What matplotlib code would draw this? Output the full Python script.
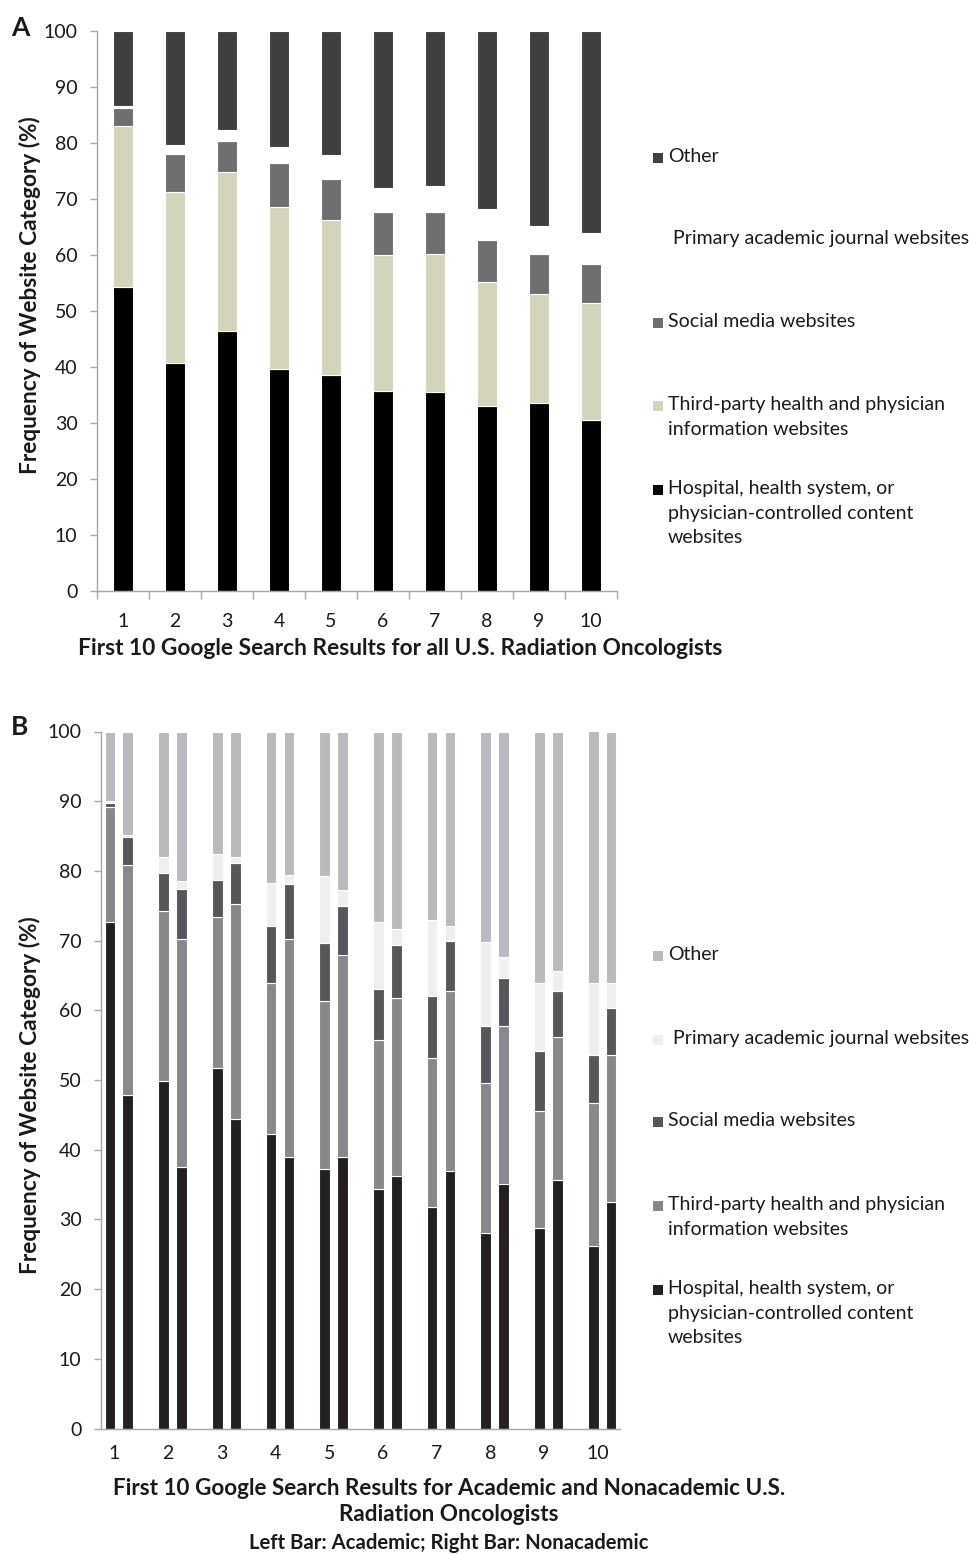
import numpy as np
import matplotlib
matplotlib.use("Agg")
import matplotlib.pyplot as plt
from matplotlib.patches import Rectangle

plt.rcParams.update({
    "font.family": ["Lato", "DejaVu Sans"],
    "font.size": 14,
    "axes.spines.top": False,
    "axes.spines.right": False,
})

RANKS = [str(i) for i in range(1, 11)]
LABELS = [
    "Hospital, health system, or\nphysician-controlled content\nwebsites",
    "Third-party health and physician\ninformation websites",
    "Social media websites",
    " Primary academic journal websites",
    "Other",
]

# (A) all radiation oncologists, % per search-result rank
all_hospital = [54.3, 40.7, 46.4, 39.7, 38.5, 35.8, 35.6, 33.0, 33.5, 30.5]
all_thirdparty = [28.7, 30.6, 28.4, 28.9, 27.7, 24.2, 24.6, 22.2, 19.5, 21.0]
all_social = [3.2, 6.7, 5.6, 7.9, 7.4, 7.6, 7.4, 7.5, 7.2, 6.9]
all_journal = [0.4, 1.6, 1.9, 2.8, 4.3, 4.3, 4.8, 5.6, 4.9, 5.5]
all_other = [13.4, 20.4, 17.7, 20.7, 22.1, 28.1, 27.6, 31.7, 34.9, 36.1]

# (B) academic (left bar) vs nonacademic (right bar)
acad_hospital = [72.7, 49.9, 51.7, 42.3, 37.3, 34.4, 31.8, 28.1, 28.7, 26.2]
acad_thirdparty = [16.4, 24.3, 21.7, 21.6, 24.0, 21.3, 21.4, 21.4, 16.9, 20.5]
acad_social = [0.6, 5.5, 5.3, 8.2, 8.4, 7.3, 8.8, 8.2, 8.5, 6.9]
acad_journal = [0.3, 2.3, 3.7, 6.2, 9.6, 9.7, 11.0, 12.1, 9.8, 10.3]
acad_other = [10.0, 18.0, 17.6, 21.7, 20.7, 27.3, 27.0, 30.2, 36.1, 36.1]

nonacad_hospital = [47.8, 37.5, 44.4, 38.9, 39.0, 36.2, 37.0, 35.1, 35.6, 32.5]
nonacad_thirdparty = [33.0, 32.7, 30.9, 31.3, 29.0, 25.5, 25.8, 22.6, 20.6, 21.1]
nonacad_social = [4.1, 7.2, 5.8, 7.9, 7.0, 7.6, 7.1, 6.9, 6.6, 6.8]
nonacad_journal = [0.3, 1.1, 0.9, 1.3, 2.2, 2.3, 2.2, 3.0, 2.8, 3.5]
nonacad_other = [14.8, 21.5, 18.0, 20.6, 22.8, 28.4, 27.9, 32.4, 34.4, 36.1]

COLORS_A = ["#000000", "#d4d3bc", "#6f6f6f", "#ffffff", "#3f3f3f"]
COLORS_B = ["#231f20", "#87888c", "#55575a", "#efefef", "#b9babe"]
AXIS_GRAY = "#a6a6a6"
TEXT = "#1a1a1a"

W, H = 969, 1554
fig = plt.figure(figsize=(W / 100, H / 100), dpi=100)


def fx(x):
    return x / W


def fy(y):
    return 1 - y / H


def stack(ax, x, series, colors, width):
    bottom = np.zeros(len(x))
    for vals, c in zip(series, colors):
        ax.bar(x, vals, width, bottom=bottom, color=c, edgecolor="white",
               linewidth=0.8)
        bottom += np.asarray(vals)


def style_axes(ax, ylab_y):
    for s in ("left", "bottom"):
        ax.spines[s].set_color(AXIS_GRAY)
        ax.spines[s].set_linewidth(1.0)
    ax.set_ylim(0, 100)
    ax.set_yticks(range(0, 101, 10))
    ax.tick_params(axis="y", length=5, width=1, color=AXIS_GRAY, pad=9,
                   labelsize=14, labelcolor=TEXT)
    ax.set_ylabel("Frequency of Website Category (%)", fontweight="bold",
                  fontsize=16.3, color=TEXT)
    x0 = ax.get_position().x0 * W
    ax.yaxis.set_label_coords((30 - x0) / (ax.get_position().width * W),
                              ylab_y)
    ax.yaxis.label.set_va("center")


def side_legend(colors, rows):
    # rows: y of the first text line, in px from the top
    for y, lab, c in zip(rows, LABELS, colors):
        fig.patches.append(Rectangle((fx(653), fy(y + 5)), fx(10), 10 / H,
                                     transform=fig.transFigure,
                                     facecolor=c, edgecolor="none"))
        fig.text(fx(668), fy(y - 10), lab, ha="left", va="top",
                 fontsize=14, color=TEXT, linespacing=1.55)


# ---- panel A
axA = fig.add_axes([fx(97), fy(591), fx(520), 560 / H])
xA = np.arange(1, 11)
stack(axA, xA, [all_hospital, all_thirdparty, all_social, all_journal,
                all_other], COLORS_A, 0.39)
axA.set_xlim(0.5, 10.5)
axA.set_xticks(xA)
axA.set_xticklabels(RANKS)
axA.set_xticks(np.arange(0.5, 11, 1), minor=True)
axA.tick_params(axis="x", which="major", length=0, pad=16, labelsize=14,
                labelcolor=TEXT)
axA.tick_params(axis="x", which="minor", length=6, width=1, color=AXIS_GRAY)
style_axes(axA, (591 - 295) / 560)
axA.set_xlabel("First 10 Google Search Results for all U.S. Radiation Oncologists",
               fontweight="bold", fontsize=16.4, color=TEXT)
axA.xaxis.set_label_coords((400 - 97) / 520, (591 - 638) / 560)
side_legend(COLORS_A, [490, 406, 323, 240, 158])
fig.text(fx(11), fy(28), "A", fontsize=19, fontweight="bold", va="center",
         color=TEXT)

# ---- panel B
axB = fig.add_axes([fx(101), fy(1428.5), fx(519), 697 / H])
slots = np.arange(10) * 3
stack(axB, slots, [acad_hospital, acad_thirdparty, acad_social, acad_journal,
                   acad_other], COLORS_B, 0.6)
stack(axB, slots + 1, [nonacad_hospital, nonacad_thirdparty, nonacad_social,
                       nonacad_journal, nonacad_other], COLORS_B, 0.6)
axB.set_xlim(-0.5, 28.5)
axB.set_xticks(slots + 0.25)
axB.set_xticklabels(RANKS)
axB.tick_params(axis="x", length=0, pad=12, labelsize=14, labelcolor=TEXT)
style_axes(axB, (1428.5 - 1095) / 697)
axB.set_xlabel("First 10 Google Search Results for Academic and Nonacademic U.S.\n"
               "Radiation Oncologists", fontweight="bold", fontsize=16.2,
               linespacing=1.3, color=TEXT)
axB.xaxis.set_label_coords((449 - 101) / 519, (1428.5 - 1478) / 697)
fig.text(fx(449), fy(1543), "Left Bar: Academic; Right Bar: Nonacademic",
         ha="center", va="center", fontweight="bold", fontsize=14.6, color=TEXT)
side_legend(COLORS_B, [1290, 1206, 1122, 1040, 956])
fig.text(fx(11), fy(727), "B", fontsize=19, fontweight="bold", va="center",
         color=TEXT)

fig.savefig("out.png", dpi=100)
